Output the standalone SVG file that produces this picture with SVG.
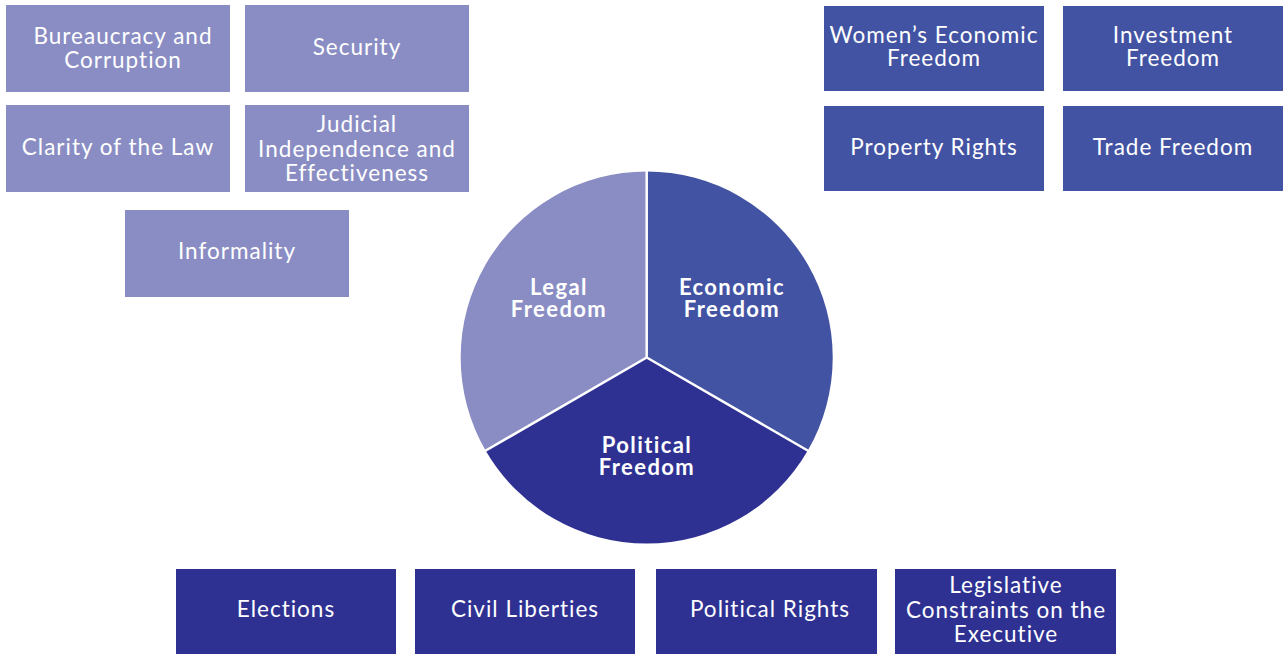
<svg xmlns="http://www.w3.org/2000/svg" width="1283" height="654" viewBox="0 0 1283 654">
<style>
.l{fill:#8A8DC3}.m{fill:#4353A3}.d{fill:#2E3192}
.t{font-family:Lato,"Liberation Sans",sans-serif;font-size:22.5px;letter-spacing:1px;fill:#fff;text-anchor:middle}
.b{font-family:Lato,"Liberation Sans",sans-serif;font-size:22px;letter-spacing:1.4px;font-weight:bold;fill:#fff;text-anchor:middle}
</style>
<rect width="1283" height="654" fill="#fff"/>
<g id="legal-boxes">
<g id="bureaucracy"><rect class="l" x="6" y="5" width="224" height="87"/><text class="t" x="123" y="44">Bureaucracy and</text><text class="t" x="123" y="68">Corruption</text></g>
<g id="security"><rect class="l" x="245" y="5" width="224" height="87"/><text class="t" x="357" y="55">Security</text></g>
<g id="clarity"><rect class="l" x="6" y="105" width="224" height="87"/><text class="t" x="118" y="155">Clarity of the Law</text></g>
<g id="judicial"><rect class="l" x="245" y="105" width="224" height="87"/><text class="t" x="357" y="132">Judicial</text><text class="t" x="357" y="157">Independence and</text><text class="t" x="357" y="181">Effectiveness</text></g>
<g id="informality"><rect class="l" x="125" y="210" width="224" height="87"/><text class="t" x="237" y="259">Informality</text></g>
</g>
<g id="economic-boxes">
<g id="womens"><rect class="m" x="824" y="6" width="220" height="85"/><text class="t" x="934" y="43">Women’s Economic</text><text class="t" x="934" y="66">Freedom</text></g>
<g id="investment"><rect class="m" x="1063" y="6" width="220" height="85"/><text class="t" x="1173" y="43">Investment</text><text class="t" x="1173" y="66">Freedom</text></g>
<g id="property"><rect class="m" x="824" y="106" width="220" height="85"/><text class="t" x="934" y="155">Property Rights</text></g>
<g id="trade"><rect class="m" x="1063" y="106" width="220" height="85"/><text class="t" x="1173" y="155">Trade Freedom</text></g>
</g>
<g id="political-boxes">
<g id="elections"><rect class="d" x="176" y="569" width="220" height="85"/><text class="t" x="286" y="617">Elections</text></g>
<g id="civil"><rect class="d" x="415" y="569" width="220" height="85"/><text class="t" x="525" y="617">Civil Liberties</text></g>
<g id="rights"><rect class="d" x="656" y="569" width="221" height="85"/><text class="t" x="770" y="617">Political Rights</text></g>
<g id="legislative"><rect class="d" x="895" y="569" width="221" height="85"/><text class="t" x="1006" y="593">Legislative</text><text class="t" x="1006" y="618">Constraints on the</text><text class="t" x="1006" y="642">Executive</text></g>
</g>
<g id="pie">
<g id="legal-freedom"><path class="l" d="M646.7,357.5 L646.7,171.5 A186,186 0 0 0 485.6,450.5 Z"/><text class="b" x="559" y="295">Legal</text><text class="b" x="559" y="317">Freedom</text></g>
<g id="economic-freedom"><path class="m" d="M646.7,357.5 L646.7,171.5 A186,186 0 0 1 807.8,450.5 Z"/><text class="b" x="732" y="295">Economic</text><text class="b" x="732" y="317">Freedom</text></g>
<g id="political-freedom"><path class="d" d="M646.7,357.5 L807.8,450.5 A186,186 0 0 1 485.6,450.5 Z"/><text class="b" x="647" y="453">Political</text><text class="b" x="647" y="475">Freedom</text></g>
</g>
<g id="connectors" fill="none" stroke="#fff" stroke-width="2.5">
<line x1="646.7" y1="357.5" x2="646.7" y2="170"/>
<line x1="646.7" y1="357.5" x2="485" y2="451"/>
<line x1="646.7" y1="357.5" x2="808.5" y2="451"/>
</g>
</svg>
